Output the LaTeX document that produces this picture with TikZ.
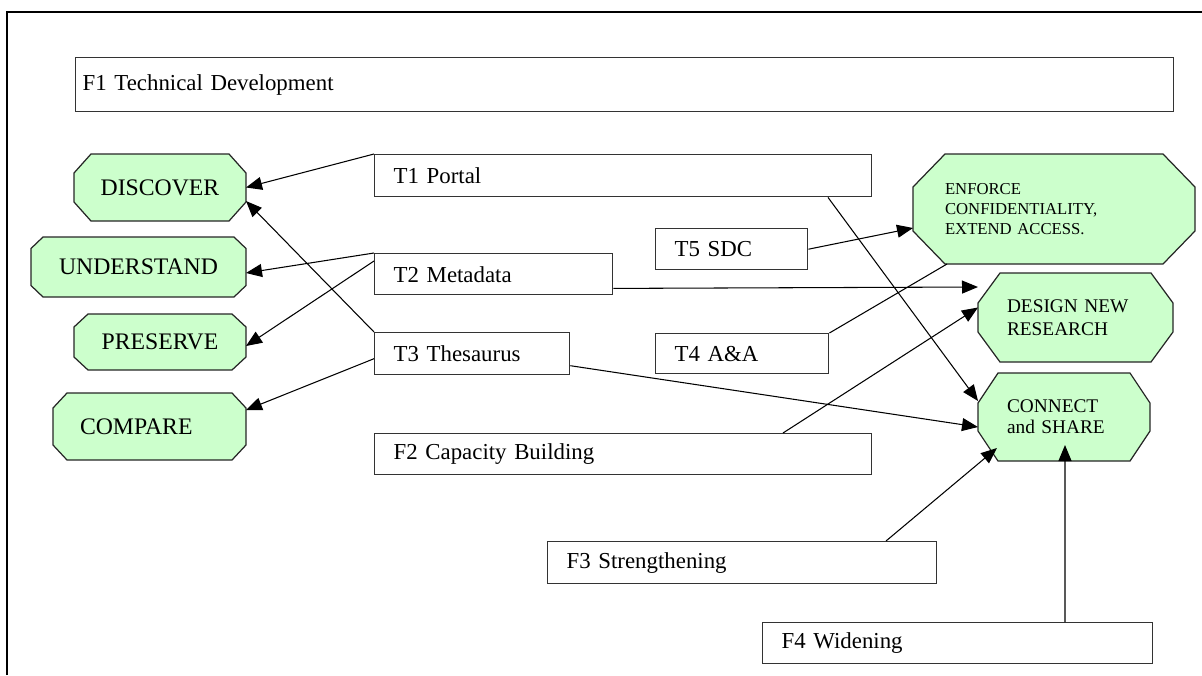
\documentclass[tikz,border=0pt]{standalone}
\usepackage{fontspec}
\setmainfont{Liberation Serif}
\usetikzlibrary{arrows.meta,calc,backgrounds}

\definecolor{goalgreen}{HTML}{CCFFCC}

\tikzset{
    work/.style={draw=black!80, line width=0.8pt, anchor=north west, minimum height=0.82cm,
        inner xsep=0.38cm, align=left, text width=#1, font=\fontsize{13}{15}\selectfont},
    goal/.style={inner sep=0pt, outer sep=0pt, font=\fontsize{13.5}{16}\selectfont},
    goalline/.style={draw=black!85, line width=0.7pt, fill=goalgreen},
    link/.style={line width=0.6pt, -{Triangle[length=0.32cm, width=0.26cm]}},
    plain/.style={line width=0.6pt},
}

\begin{document}
\begin{tikzpicture}
    \useasboundingbox (0,0) rectangle (24.04,-13.5);
    \draw[line width=1.1pt] (0.14,-13.5) -- (0.14,-0.24) -- (24.04,-0.24);

    % --- FRAMEWORK AND TASK BOXES ---
    \node[work=21.68cm, inner xsep=0.14cm, minimum height=1.08cm] (f1) at (1.50,-1.14) {F1 Technical Development};
    \node[work=9.18cm, minimum height=0.84cm] (t1) at (7.48,-3.08) {T1 Portal};
    \node[work=4.00cm] (t2) at (7.48,-5.06) {T2 Metadata};
    \node[work=3.14cm, minimum height=0.84cm] (t3) at (7.48,-6.64) {T3 Thesaurus};
    \node[work=9.18cm] (f2) at (7.48,-8.66) {F2 Capacity Building};
    \node[work=2.28cm] (t5) at (13.10,-4.56) {T5 SDC};
    \node[work=2.70cm, minimum height=0.80cm] (t4) at (13.10,-6.66) {T4 A\&A};
    \node[work=7.02cm, minimum height=0.84cm] (f3) at (10.94,-10.82) {F3 Strengthening};
    \node[work=7.04cm] (f4) at (15.24,-12.44) {F4 Widening};

    % --- LEFT GOALS ---
    \node[goal, minimum width=3.44cm, minimum height=1.34cm] (discover) at (3.20,-3.75) {DISCOVER};
    \node[goal, minimum width=4.30cm, minimum height=1.20cm] (understand) at (2.77,-5.34) {UNDERSTAND};
    \node[goal, minimum width=3.44cm, minimum height=1.12cm] (preserve) at (3.20,-6.84) {PRESERVE};
    \node[goal, minimum width=3.86cm, minimum height=1.34cm, inner xsep=0.54cm, text width=2.78cm, align=left]
        (compare) at (2.99,-8.53) {COMPARE};

    % --- RIGHT GOALS ---
    \node[goal, minimum width=5.64cm, minimum height=2.20cm, inner xsep=0.64cm, text width=4.36cm, align=left,
        font=\fontsize{9.5}{11.4}\selectfont] (enforce) at (21.08,-4.18)
        {ENFORCE\\CONFIDENTIALITY,\\EXTEND ACCESS.};
    \node[goal, minimum width=3.90cm, minimum height=1.78cm, inner xsep=0.58cm, text width=2.74cm, align=left,
        font=\fontsize{11}{13}\selectfont] (design) at (21.51,-6.35) {DESIGN NEW\\RESEARCH};
    \node[goal, minimum width=3.44cm, minimum height=1.76cm, inner xsep=0.58cm, text width=2.28cm, align=left,
        font=\fontsize{11}{12}\selectfont] (connect) at (21.28,-8.34) {CONNECT\\and SHARE};

    % Octagons behind the goal texts
    \begin{scope}[on background layer]
        \foreach \n/\cx/\cy in {discover/0.34/0.38, understand/0.24/0.23, preserve/0.28/0.26,
                compare/0.28/0.30, enforce/0.64/0.66, design/0.44/0.60, connect/0.40/0.60}
            \path[goalline]
                ($(\n.north west)+(\cx,0)$) -- ($(\n.north east)+(-\cx,0)$) --
                ($(\n.north east)+(0,-\cy)$) -- ($(\n.south east)+(0,\cy)$) --
                ($(\n.south east)+(-\cx,0)$) -- ($(\n.south west)+(\cx,0)$) --
                ($(\n.south west)+(0,\cy)$) -- ($(\n.north west)+(0,-\cy)$) -- cycle;
    \end{scope}

    % --- ARROWS TO THE LEFT ---
    \draw[link] (t1.north west) -- (discover.east);
    \draw[link] (t3.north west) -- ($(discover.south east)+(0,0.4)$);
    \draw[link] (t2.north west) -- ($(understand.east)+(0,-0.12)$);
    \draw[link] ($(t2.north west)+(0,-0.16)$) -- ($(preserve.east)+(0,-0.08)$);
    \draw[link] ($(t3.west)+(0,-0.1)$) -- ($(compare.north east)+(0,-0.34)$);

    % --- ARROWS TO THE RIGHT ---
    \draw[link] ($(t1.south west)+(9.08,0)$) -- ($(connect.north west)+(0,-0.56)$);
    \draw[link] (t5.east) -- ($(enforce.south west)+(0,0.72)$);
    \draw[link] ($(t2.south east)+(0,0.14)$) -- ($(design.north west)+(0,-0.28)$);
    \draw[plain] (t4.north east) -- ($(enforce.south west)+(0.68,0)$);
    \draw[link] ($(t3.east)+(0,-0.24)$) -- ($(connect.west)+(0,-0.2)$);
    \draw[link] ($(f2.north west)+(8.18,0)$) -- ($(design.west)+(0,0.2)$);
    \draw[link] ($(f3.north west)+(6.78,0)$) -- ($(connect.south west)+(0.38,0.26)$);
    \draw[link] ($(f4.north west)+(6.06,0)$) -- ($(connect.south west)+(1.74,0.32)$);
\end{tikzpicture}
\end{document}
